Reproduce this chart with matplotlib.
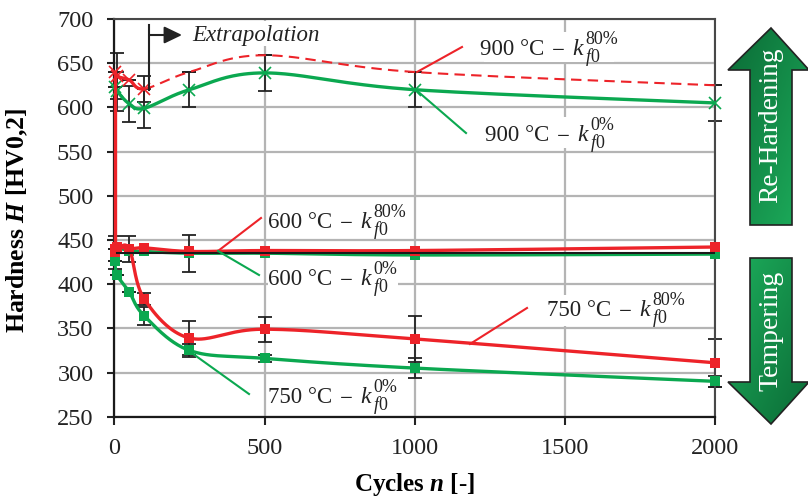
import numpy as np
import matplotlib
matplotlib.use("Agg")
import matplotlib.pyplot as plt
from matplotlib.patches import Polygon, Rectangle
from matplotlib.colors import LinearSegmentedColormap

plt.rcParams['font.family'] = ['Liberation Serif', 'DejaVu Serif']
plt.rcParams['mathtext.fontset'] = 'custom'
plt.rcParams['mathtext.rm'] = 'Liberation Serif'
plt.rcParams['mathtext.it'] = 'Liberation Serif:italic'
plt.rcParams['mathtext.bf'] = 'Liberation Serif:bold'
plt.rcParams['mathtext.bfit'] = 'Liberation Serif:italic:bold'

RED = '#ED2329'
GREEN = '#0BA850'
INK = '#222222'
W, H = 808, 497

cycles = [1, 10, 50, 100, 250, 500, 1000, 2000]

h900_80 = [640, 635, 631, 621, 640, 659, 640, 625]
h900_0 = [623, 618, 604, 599, 620, 639, 620, 605]
h600_80 = [436, 442, 440, 441, 437, 438, 438, 442]
h600_0 = [430, 440, 438, 437, 435, 435, 433, 434]
h750_80 = [440, 440, 440, 383, 339, 349, 338, 311]
h750_0 = [426, 410, 391, 364, 325, 316, 305, 290]
trend_x = [10, 2000]
trend_y = [435, 435]
quench_x = [1, 1]
quench_y = [640, 440]

err900_80 = [0, 26, 0, 15, 0, 0, 0, 0]
err900_0 = [0, 22, 20, 22, 20, 20, 20, 20]
err600_x = [1, 50, 250]
err600_y = [436, 440, 435]
err600 = [19, 15, 21]
err750_80 = [0, 0, 0, 7, 19, 14, 26, 27]
err750_0 = [0, 0, 0, 10, 7, 4, 11, 6]

labels = [
    ('900', '80%', 480, 55),
    ('900', '0%', 485, 141),
    ('600', '80%', 268, 228),
    ('600', '0%', 268, 285),
    ('750', '80%', 547, 316),
    ('750', '0%', 268, 403),
]
leaders = [
    (417, 72, 462, 47, RED),
    (415, 89, 466, 133, GREEN),
    (218, 251, 261, 218, RED),
    (218, 251, 259, 275, GREEN),
    (470, 344, 527, 308, RED),
    (189, 351, 249, 394, GREEN),
]
# white areas behind the text boxes of the original, they cut the grid
masks = [
    (190, 20.5, 132, 25),
    (484, 32, 130, 30),
    (484, 117, 130, 31),
    (268, 262, 130, 33),
    (547, 295, 140, 31),
]


def smooth(x, y, n=40):
    # same kind of smoothing a spreadsheet does between points
    p = np.column_stack([np.array(x, float), np.array(y, float)])
    out = []
    for i in range(len(p) - 1):
        p0 = p[max(i - 1, 0)]
        p1 = p[i]
        p2 = p[i + 1]
        p3 = p[min(i + 2, len(p) - 1)]
        c1 = p1 + (p2 - p0) / 6
        c2 = p2 - (p3 - p1) / 6
        t = np.linspace(0, 1, n)[:, None]
        out.append((1 - t)**3 * p1 + 3 * (1 - t)**2 * t * c1 + 3 * (1 - t) * t**2 * c2 + t**3 * p2)
    out = np.vstack(out)
    return out[:, 0], out[:, 1]


def px(x, y):
    return x / W, 1 - y / H


fig = plt.figure(figsize=(W / 100, H / 100), dpi=100)
ax = fig.add_axes([114.3 / W, 1 - 416.7 / H, 601 / W, 397.7 / H])
ax.set_xlim(0, 2000)
ax.set_ylim(250, 700)
ax.set_xticks([0, 500, 1000, 1500, 2000])
ax.set_yticks(np.arange(250, 701, 50))
ax.grid(True, color='#B4B4B4', lw=1.6, zorder=1)
ax.set_axisbelow(True)
ax.tick_params(axis='x', length=6, width=1.5, pad=9, labelsize=17.5, colors=INK)
ax.tick_params(axis='y', length=5, width=1.5, pad=10, labelsize=17.5, colors=INK)
for s in ['left', 'bottom']:
    ax.spines[s].set_linewidth(1.6)
    ax.spines[s].set_color('#1a1a1a')
for s in ['right', 'top']:
    ax.spines[s].set_linewidth(1.5)
    ax.spines[s].set_color('#484848')

for x, y, w, h in masks:
    ax.add_patch(Rectangle(px(x, y + h), w / W, h / H, transform=fig.transFigure, fc='white', ec='none', zorder=1.5))

# error bars
ekw = dict(fmt='none', ecolor=INK, elinewidth=1.3, capsize=4.7, capthick=1.3, zorder=2.5, clip_on=False)
ax.errorbar(cycles, h900_80, yerr=err900_80, **ekw)
ax.errorbar(cycles, h900_0, yerr=err900_0, **ekw)
ax.errorbar(err600_x, err600_y, yerr=err600, **ekw)
ax.errorbar(cycles, h750_80, yerr=err750_80, **ekw)
ax.errorbar(cycles, h750_0, yerr=err750_0, **ekw)

# 900 series, dashed where extrapolated
sx, sy = smooth(cycles, h900_80)
ax.plot(sx[sx <= 100], sy[sx <= 100], color=RED, lw=2.4, zorder=3, solid_capstyle='butt')
ax.plot(sx[sx >= 100], sy[sx >= 100], color=RED, lw=1.5, dashes=(5, 3), zorder=3)
ax.plot(cycles[:4], h900_80[:4], 'x', color=RED, ms=8.5, mew=1.2, zorder=3.2, clip_on=False)
sx, sy = smooth(cycles, h900_0)
ax.plot(sx, sy, color=GREEN, lw=2.4, zorder=3)
ax.plot(cycles, h900_0, 'x', color=GREEN, ms=8.5, mew=1.2, zorder=3.1, clip_on=False)

for vals, col, z in [(h750_0, GREEN, 3), (h600_0, GREEN, 3), (h750_80, RED, 3.2), (h600_80, RED, 3.3)]:
    sx, sy = smooth(cycles, vals)
    ax.plot(sx, sy, color=col, lw=2.4, zorder=z)
    ax.plot(cycles, vals, 's', color=col, ms=7.5, mew=0, zorder=z, clip_on=False)

ax.plot(quench_x, quench_y, color=RED, lw=2.4, zorder=3.4, clip_on=False)
ax.plot(trend_x, trend_y, color='#1a1a1a', lw=1.5, zorder=3.5)

# curve labels, k with sub and superscript set by hand for the wider math font
tkw = dict(transform=fig.transFigure, color=INK, va='baseline', zorder=4, clip_on=False)
for temp, strain, x, y in labels:
    ax.text(*px(x, y), temp + ' °C', fontsize=16.5, **tkw)
    ax.text(*px(x + 71, y), r'$-$', fontsize=16.5, **tkw)
    ax.text(*px(x + 92, y), r'$k$', fontsize=17, **tkw)
    ax.text(*px(x + 105, y + 7), r'$f$0', fontsize=13, **tkw)
    ax.text(*px(x + 105, y - 11), strain, fontsize=13, **tkw)
for x0, y0, x1, y1, col in leaders:
    a, b = px(x0, y0)
    c, d = px(x1, y1)
    ax.plot([a, c], [b, d], color=col, lw=1.5, transform=fig.transFigure, zorder=4, clip_on=False)

# extrapolation marker
a, b = px(149, 25)
c, d = px(149, 90)
ax.plot([a, c], [b, d], color=INK, lw=1.5, transform=fig.transFigure, zorder=4, clip_on=False)
ax.annotate('', xy=px(182, 35), xytext=px(149, 35), xycoords='figure fraction', textcoords='figure fraction',
            arrowprops=dict(arrowstyle='-|>,head_length=0.54,head_width=0.26', mutation_scale=20, color=INK,
                            lw=1.5, shrinkA=0, shrinkB=0), zorder=4)
ax.text(*px(192, 41), 'Extrapolation', style='italic', fontsize=16.5, **tkw)

ax.set_xlabel(r'$\mathbf{Cycles}$ $\mathbfit{n}$ $\mathbf{[\text{-}]}$', fontsize=18)
ax.set_ylabel(r'$\mathbf{Hardness}$ $\mathbfit{H}$ $\mathbf{[HV0{,}2]}$', fontsize=18.5)
ax.xaxis.set_label_coords(*ax.transAxes.inverted().transform(fig.transFigure.transform(px(414, 484))))
ax.yaxis.set_label_coords(*ax.transAxes.inverted().transform(fig.transFigure.transform(px(17, 220))))
ax.xaxis.label.set_va('center')
ax.yaxis.label.set_va('center')

# gradient arrows on a full figure overlay
over = fig.add_axes([0, 0, 1, 1], zorder=5)
over.patch.set_alpha(0)
over.axis('off')
up = [(771, 28), (809, 70), (792, 70), (792, 225), (750, 225), (750, 70), (728, 70)]
down = [(750, 258), (792, 258), (792, 382), (809, 382), (771, 424), (728, 382), (750, 382)]
gy = np.linspace(0, 1, 200)[:, None]
gx = np.linspace(0, 1, 60)[None, :]
cmap = LinearSegmentedColormap.from_list('g', ['#0B6B36', '#1DAE5C'])
for pts, shade, ext in [(up, (gy + gx) / 2, (728, 809, 225, 28)), (down, (2 - gy - gx) / 2, (728, 809, 424, 258))]:
    poly = Polygon(pts, closed=True, fc='none', ec=INK, lw=1.2, zorder=3)
    over.add_patch(poly)
    im = over.imshow(shade, cmap=cmap, vmin=0, vmax=1, extent=ext, aspect='auto', origin='upper', zorder=2)
    im.set_clip_path(poly)
over.set_xlim(0, W)
over.set_ylim(H, 0)
over.text(771, 125, 'Re-Hardening', rotation=90, color='white', fontsize=19.7, ha='center', va='center', zorder=4)
over.text(771, 331, 'Tempering', rotation=90, color='white', fontsize=20, ha='center', va='center', zorder=4)

fig.savefig('out.png', dpi=100)
